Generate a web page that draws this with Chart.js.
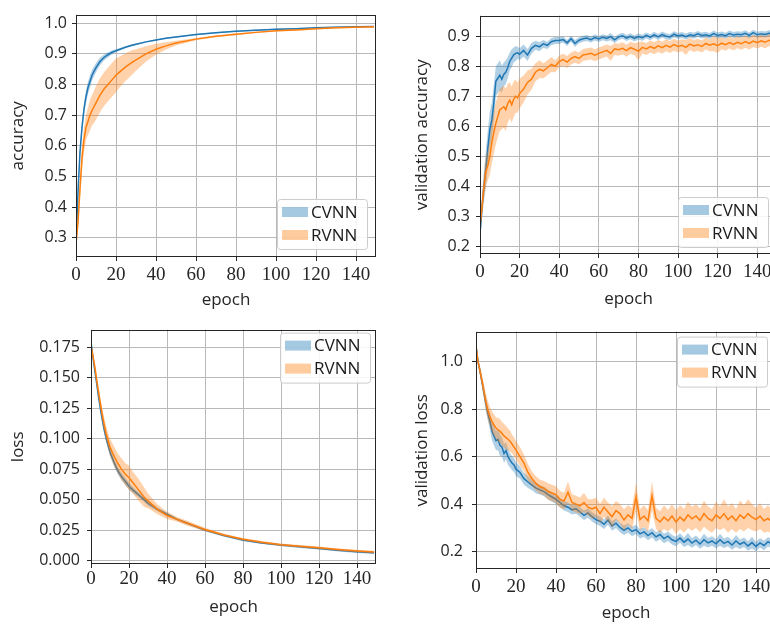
<!DOCTYPE html>
<html>
<head>
<meta charset="utf-8">
<script src="https://cdn.jsdelivr.net/npm/chart.js@4/dist/chart.umd.min.js"></script>
<style>
  body { margin: 0; background: #fff; overflow: hidden; }
  #fig { position: relative; width: 770px; height: 626px; overflow: hidden; }
  canvas { position: absolute; }
</style>
</head>
<body>
<div id="fig">
  <canvas id="acc" width="385" height="313" style="left:0;top:0"></canvas>
  <canvas id="valAcc" width="400" height="313" style="left:385px;top:0"></canvas>
  <canvas id="loss" width="385" height="313" style="left:0;top:313px"></canvas>
  <canvas id="valLoss" width="400" height="313" style="left:385px;top:313px"></canvas>
</div>
<script>
const trainEpochs = [0,1,2,3,4,5,6,7,8, 10,12,14,16,18,20,22, 25,28,30, 35,40,45,50,
  60,70,80,90,100,110,120,130,140, 149];

const accCvnn = [0.28,0.45,0.58,0.66,0.72,0.76,0.79,0.81,0.83, 0.855,0.875,0.888,0.897,0.905,0.91,0.915,
  0.922,0.928,0.931, 0.939,0.945,0.951,0.955, 0.963,0.969,0.974,0.977,0.98,0.982,0.985,0.987,0.988, 0.989];
const accCvnnSpread = [0.005,0.01,0.015,0.02,0.02,0.02,0.02,0.02,0.018, 0.015,0.012,0.01,0.008,0.006,0.005,0.004,
  0.003,0.003,0.003, 0.002,0.002,0.002,0.002, 0.002,0.002,0.002,0.002,0.002,0.002,0.002,0.002,0.002, 0.002];
const accRvnn = [0.28,0.35,0.46,0.56,0.62,0.66,0.68,0.70,0.715, 0.74,0.765,0.785,0.80,0.815,0.83,0.842,
  0.858,0.872,0.88, 0.90,0.915,0.926,0.935, 0.948,0.957,0.964,0.970,0.975,0.978,0.982,0.985,0.987, 0.988];
const accRvnnSpread = [0.005,0.02,0.03,0.04,0.04,0.04,0.045,0.05,0.05, 0.055,0.055,0.055,0.055,0.055,0.055,0.05,
  0.045,0.04,0.035, 0.025,0.018,0.012,0.008, 0.004,0.003,0.003,0.002,0.002,0.002,0.002,0.002,0.002, 0.002];

const lossCvnn = [0.179,0.167,0.156,0.145,0.134,0.124,0.115,0.107,0.100, 0.089,0.081,0.074,0.069,0.065,0.061,0.058,
  0.054,0.05,0.047, 0.042,0.038,0.034,0.031, 0.025,0.0205,0.0168,0.0145,0.0127,0.0113,0.010,0.0085,0.0073, 0.0065];
const lossCvnnSpread = [0.001,0.001,0.0015,0.002,0.002,0.002,0.0025,0.003,0.003, 0.003,0.003,0.003,0.003,0.003,0.003,0.0025,
  0.002,0.002,0.002, 0.0015,0.0015,0.001,0.001, 0.001,0.001,0.001,0.001,0.001,0.001,0.001,0.001,0.001, 0.001];
const lossRvnn = [0.176,0.168,0.159,0.148,0.138,0.128,0.119,0.111,0.104, 0.093,0.086,0.080,0.075,0.071,0.068,0.064,
  0.058,0.052,0.049, 0.042,0.037,0.034,0.031, 0.0255,0.021,0.0175,0.015,0.013,0.0118,0.0105,0.009,0.0078, 0.007];
const lossRvnnSpread = [0.002,0.003,0.003,0.004,0.004,0.005,0.005,0.006,0.006, 0.007,0.008,0.008,0.009,0.009,0.01,0.009,
  0.009,0.008,0.006, 0.004,0.003,0.002,0.002, 0.0015,0.001,0.001,0.001,0.001,0.001,0.001,0.001,0.001, 0.001];

const valEpochs = [0,1,2,3,4,5,6,7,8,9,10,11,12,13,14,15,16,17,18,19,20,
  22,24,26,28,30,32,34,36,38,40,42,44,46,48,50,52,54,56,58,60,
  62,64,66,68,70,72,74,76,78,80,82,84,86,88,90,92,94,96,98,100,
  102,104,106,108,110,112,114,116,118,120,122,124,126,128,130,132,134,136,138,140,
  142,144,146,148,149];

const valAccCvnn = [0.24,0.33,0.40,0.46,0.53,0.59,0.62,0.68,0.75,0.76,0.77,0.757,0.773,0.78,0.795,0.816,0.827,0.838,0.843,0.845,0.84,
  0.853,0.838,0.86,0.87,0.865,0.875,0.87,0.882,0.886,0.886,0.889,0.878,0.892,0.876,0.887,0.892,0.894,0.889,0.896,0.891,
  0.897,0.893,0.899,0.888,0.898,0.902,0.894,0.9,0.893,0.899,0.895,0.903,0.897,0.905,0.898,0.906,0.9,0.898,0.907,0.901,
  0.904,0.899,0.905,0.902,0.908,0.903,0.905,0.901,0.909,0.903,0.906,0.902,0.909,0.904,0.907,0.905,0.91,0.903,0.912,0.905,
  0.908,0.906,0.91,0.907,0.909];
const valAccCvnnSpread = [0.02,0.04,0.05,0.06,0.06,0.06,0.06,0.06,0.05,0.05,0.05,0.045,0.04,0.04,0.035,0.03,0.03,0.025,0.025,0.02,0.02,
  0.02,0.02,0.018,0.015,0.015,0.013,0.012,0.012,0.012,0.012,0.01,0.01,0.01,0.012,0.01,0.01,0.01,0.01,0.01,0.01,
  0.01,0.01,0.012,0.01,0.01,0.01,0.01,0.01,0.01,0.01,0.01,0.01,0.01,0.01,0.01,0.01,0.01,0.01,0.01,0.01,
  0.01,0.01,0.01,0.01,0.01,0.01,0.01,0.01,0.01,0.01,0.01,0.01,0.01,0.01,0.01,0.01,0.01,0.01,0.01,0.01,
  0.01,0.01,0.01,0.01,0.01];
const valAccRvnn = [0.268,0.33,0.40,0.45,0.47,0.50,0.547,0.58,0.61,0.633,0.655,0.66,0.665,0.655,0.676,0.687,0.672,0.69,0.70,0.695,0.709,
  0.724,0.746,0.757,0.78,0.79,0.785,0.795,0.806,0.8,0.816,0.822,0.814,0.826,0.832,0.826,0.838,0.84,0.843,0.837,0.843,
  0.848,0.853,0.843,0.858,0.855,0.86,0.852,0.862,0.857,0.85,0.863,0.858,0.866,0.86,0.868,0.862,0.87,0.864,0.872,0.866,
  0.87,0.863,0.874,0.868,0.872,0.866,0.876,0.87,0.875,0.869,0.877,0.872,0.879,0.873,0.88,0.875,0.882,0.876,0.884,0.879,
  0.885,0.88,0.887,0.883,0.886];
const valAccRvnnSpread = [0.02,0.03,0.04,0.05,0.05,0.06,0.07,0.07,0.07,0.07,0.07,0.07,0.07,0.07,0.065,0.06,0.06,0.06,0.055,0.05,0.05,
  0.045,0.04,0.035,0.03,0.03,0.025,0.025,0.025,0.02,0.02,0.02,0.02,0.02,0.02,0.02,0.02,0.02,0.02,0.02,0.02,
  0.02,0.02,0.025,0.02,0.02,0.02,0.02,0.02,0.02,0.03,0.02,0.02,0.02,0.02,0.02,0.02,0.02,0.02,0.02,0.02,
  0.02,0.025,0.02,0.02,0.02,0.02,0.02,0.02,0.025,0.025,0.02,0.02,0.02,0.02,0.02,0.02,0.02,0.02,0.02,0.02,
  0.02,0.02,0.02,0.02,0.02];

const valLossCvnn = [1.067,1.0,0.96,0.913,0.867,0.82,0.78,0.747,0.707,0.687,0.667,0.672,0.647,0.64,0.613,0.625,0.6,0.585,0.573,0.565,0.547,
  0.533,0.507,0.493,0.48,0.467,0.46,0.453,0.44,0.43,0.42,0.407,0.393,0.387,0.376,0.38,0.367,0.353,0.363,0.347,0.335,
  0.328,0.315,0.333,0.308,0.32,0.302,0.29,0.3,0.285,0.293,0.275,0.283,0.268,0.28,0.262,0.272,0.255,0.265,0.25,0.243,
  0.257,0.24,0.253,0.236,0.248,0.232,0.25,0.237,0.245,0.233,0.25,0.235,0.243,0.228,0.245,0.231,0.24,0.224,0.238,0.222,
  0.237,0.226,0.242,0.232,0.236];
const valLossCvnnSpread = [0.01,0.015,0.02,0.02,0.025,0.03,0.03,0.035,0.04,0.04,0.04,0.045,0.045,0.04,0.04,0.035,0.035,0.03,0.03,0.03,0.03,
  0.025,0.025,0.025,0.022,0.022,0.02,0.02,0.02,0.02,0.02,0.02,0.02,0.02,0.02,0.02,0.02,0.02,0.02,0.02,0.02,
  0.02,0.02,0.02,0.02,0.02,0.02,0.02,0.02,0.02,0.02,0.02,0.02,0.02,0.02,0.02,0.02,0.02,0.02,0.02,0.02,
  0.02,0.02,0.025,0.02,0.02,0.02,0.025,0.02,0.02,0.02,0.025,0.02,0.02,0.02,0.025,0.02,0.02,0.02,0.025,0.02,
  0.02,0.02,0.02,0.02,0.02];
const valLossRvnn = [1.067,1.0,0.96,0.92,0.873,0.827,0.793,0.767,0.747,0.733,0.72,0.713,0.707,0.697,0.687,0.68,0.673,0.665,0.653,0.64,0.627,
  0.6,0.573,0.533,0.507,0.487,0.473,0.467,0.453,0.447,0.44,0.42,0.413,0.45,0.407,0.4,0.393,0.407,0.387,0.38,0.387,
  0.36,0.387,0.367,0.347,0.373,0.36,0.333,0.355,0.34,0.43,0.335,0.35,0.33,0.435,0.34,0.325,0.345,0.33,0.35,0.325,
  0.345,0.33,0.355,0.338,0.35,0.332,0.36,0.34,0.33,0.355,0.34,0.36,0.335,0.35,0.33,0.355,0.34,0.36,0.345,0.335,
  0.35,0.33,0.34,0.325,0.33];
const valLossRvnnSpread = [0.01,0.015,0.02,0.025,0.03,0.035,0.04,0.04,0.045,0.045,0.045,0.05,0.05,0.05,0.05,0.05,0.045,0.045,0.04,0.04,0.04,
  0.04,0.035,0.035,0.03,0.03,0.03,0.03,0.035,0.035,0.035,0.035,0.035,0.045,0.035,0.035,0.035,0.04,0.035,0.04,0.04,
  0.04,0.04,0.04,0.045,0.04,0.04,0.045,0.04,0.045,0.06,0.045,0.045,0.045,0.06,0.045,0.045,0.05,0.045,0.05,0.05,
  0.05,0.05,0.055,0.05,0.05,0.05,0.055,0.05,0.05,0.055,0.05,0.06,0.055,0.055,0.05,0.06,0.055,0.06,0.055,0.05,
  0.055,0.05,0.055,0.05,0.05];

const seriesNames = ['CVNN', 'RVNN'];
const lineColors = ['#1f77b4', '#ff7f0e'];
const bandColors = ['rgba(31,119,180,0.35)', 'rgba(255,127,14,0.35)'];

// draws the box around the axes and a matplotlib-like legend inside it
const frameLegend = {
  id: 'frameLegend',
  afterDraw(chart, args, opts) {
    const { ctx, chartArea: a } = chart;
    ctx.save();
    ctx.strokeStyle = '#262626';
    ctx.lineWidth = 1;
    ctx.strokeRect(Math.round(a.left) + 0.5, Math.round(a.top) + 0.5,
      Math.round(a.right - a.left) - 1, Math.round(a.bottom - a.top) - 1);

    const w = 90, h = 50;
    const x = a.right - opts.right - w;
    const y = opts.top != null ? a.top + opts.top : a.bottom - opts.bottom - h;
    ctx.fillStyle = 'rgba(255,255,255,0.85)';
    ctx.strokeStyle = '#cccccc';
    ctx.beginPath();
    ctx.roundRect(x + 0.5, y + 0.5, w, h, 3);
    ctx.fill();
    ctx.stroke();
    ctx.font = '17px "Open Sans"';
    ctx.textBaseline = 'middle';
    seriesNames.forEach((name, i) => {
      const cy = y + 13 + i * 23;
      ctx.fillStyle = bandColors[i].replace('0.35', '0.4');
      ctx.fillRect(x + 5, cy - 5, 26, 10);
      ctx.fillStyle = '#1a1a1a';
      ctx.fillText(name, x + 34, cy + 1);
    });
    ctx.restore();
  }
};

function seriesDatasets(epochs, mean, spread, k) {
  const pts = (f) => epochs.map((e, i) => ({ x: e, y: f(i) }));
  const base = { pointRadius: 0, borderWidth: 0.5, borderColor: 'rgba(0,0,0,0)', tension: 0 };
  const ord = (1 - k) * 2;
  return [
    { ...base, data: pts(i => mean[i] - spread[i]), fill: false, order: ord + 1 },
    { ...base, data: pts(i => mean[i] + spread[i]), fill: '-1', backgroundColor: bandColors[k], order: ord + 1 },
    { data: pts(i => mean[i]), borderColor: lineColors[k], borderWidth: 1.5, pointRadius: 0, fill: false, order: ord }
  ];
}

function makePanel(id, p) {
  new Chart(document.getElementById(id), {
    type: 'line',
    data: {
      datasets: [
        ...seriesDatasets(p.epochs, p.cvnn, p.cvnnSpread, 0),
        ...seriesDatasets(p.epochs, p.rvnn, p.rvnnSpread, 1)
      ]
    },
    options: {
      responsive: false,
      animation: false,
      devicePixelRatio: 1,
      layout: { padding: { left: 0, top: p.padTop, right: p.padRight, bottom: 0 } },
      plugins: {
        legend: { display: false },
        tooltip: { enabled: false },
        frameLegend: p.legend
      },
      scales: {
        x: {
          type: 'linear', min: 0, max: 150,
          afterFit: s => { s.height = p.xHeight; },
          border: { display: false },
          grid: { color: '#b9b9b9', lineWidth: 1, tickLength: 4, tickColor: '#262626' },
          ticks: {
            stepSize: 20, includeBounds: false, autoSkip: false, maxRotation: 0,
            padding: p.xTickPad, color: '#262626',
            font: { family: '"Liberation Serif", serif', size: 19 }
          },
          title: {
            display: true, text: 'epoch', color: '#262626',
            font: { family: '"Open Sans"', size: 17 },
            padding: { top: 0, bottom: p.xTitlePad }
          }
        },
        y: {
          min: p.yMin, max: p.yMax,
          afterFit: s => { s.width = p.yWidth; },
          border: { display: false },
          grid: { color: '#b9b9b9', lineWidth: 1, tickLength: 4, tickColor: '#262626' },
          ticks: {
            stepSize: p.yStep, includeBounds: false, padding: p.yTickPad, color: '#262626',
            font: { family: '"Open Sans"', size: 16 },
            callback: v => v.toFixed(p.dec)
          },
          title: {
            display: true, text: p.yTitle, color: '#262626',
            font: { family: '"Open Sans"', size: 17 },
            padding: { top: p.yTitlePad, bottom: 0 }
          }
        }
      }
    },
    plugins: [frameLegend]
  });
}

makePanel('acc', {
  epochs: trainEpochs, cvnn: accCvnn, cvnnSpread: accCvnnSpread, rvnn: accRvnn, rvnnSpread: accRvnnSpread,
  yMin: 0.237, yMax: 1.028, yStep: 0.1, dec: 1, yTitle: 'accuracy',
  padTop: 7, padRight: 9, yWidth: 76, xHeight: 56,
  xTickPad: 3, yTickPad: 5, xTitlePad: 3, yTitlePad: 8,
  legend: { right: 9, bottom: 8 }
});

makePanel('valAcc', {
  epochs: valEpochs, cvnn: valAccCvnn, cvnnSpread: valAccCvnnSpread, rvnn: valAccRvnn, rvnnSpread: valAccRvnnSpread,
  yMin: 0.174, yMax: 0.969, yStep: 0.1, dec: 1, yTitle: 'validation accuracy',
  padTop: 8, padRight: 8, yWidth: 95, xHeight: 59,
  xTickPad: 3, yTickPad: 6, xTitlePad: 4, yTitlePad: 27,
  legend: { right: 9, bottom: 7 }
});

makePanel('loss', {
  epochs: trainEpochs, cvnn: lossCvnn, cvnnSpread: lossCvnnSpread, rvnn: lossRvnn, rvnnSpread: lossRvnnSpread,
  yMin: -0.0028, yMax: 0.1894, yStep: 0.025, dec: 3, yTitle: 'loss',
  padTop: 15, padRight: 9, yWidth: 91, xHeight: 62,
  xTickPad: 0, yTickPad: 7, xTitlePad: 9, yTitlePad: 8,
  legend: { right: 6, top: 3 }
});

makePanel('valLoss', {
  epochs: valEpochs, cvnn: valLossCvnn, cvnnSpread: valLossCvnnSpread, rvnn: valLossRvnn, rvnnSpread: valLossRvnnSpread,
  yMin: 0.127, yMax: 1.126, yStep: 0.2, dec: 1, yTitle: 'validation loss',
  padTop: 7, padRight: 9, yWidth: 91, xHeight: 57,
  xTickPad: 3, yTickPad: 9, xTitlePad: 3, yTitlePad: 27,
  legend: { right: 9, top: 5 }
});
</script>
</body>
</html>
